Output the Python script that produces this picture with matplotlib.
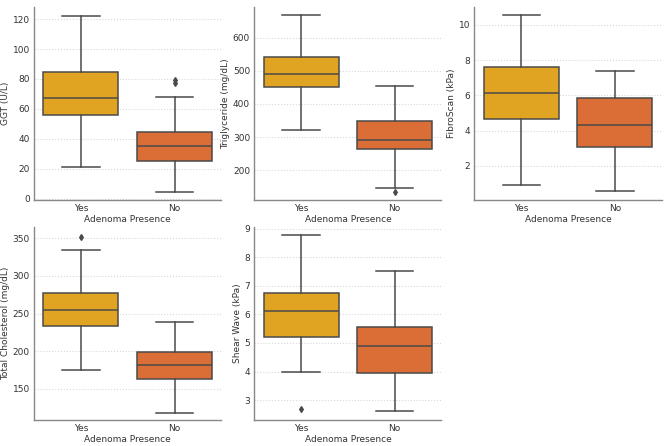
import matplotlib
matplotlib.use("Agg")
import matplotlib.pyplot as plt

groups = ["Yes", "No"]
colors = ["#E0A422", "#DB6D37"]

# (whislo, q1, med, q3, whishi, fliers) for Yes / No
ggt = [(21, 56, 67.5, 84.5, 122, []), (4.5, 25, 35, 44.5, 68, [77.5, 79.5])]
tg = [(320, 451, 489, 542, 667, []), (147, 265, 292, 350, 455, [136])]
fibro = [(0.9, 4.65, 6.1, 7.6, 10.55, []), (0.55, 3.05, 4.3, 5.85, 7.4, [])]
chol = [(175, 233, 255, 277, 335, [352]), (118, 163, 182, 199, 239, [])]
shear = [(4.0, 5.2, 6.12, 6.75, 8.77, [2.68]), (2.62, 3.95, 4.9, 5.57, 7.5, [])]

panels = [
    (ggt, "GGT (U/L)", (-1, 128), [0, 20, 40, 60, 80, 100, 120]),
    (tg, "Triglyceride (mg/dL)", (110, 692), [200, 300, 400, 500, 600]),
    (fibro, "FibroScan (kPa)", (0.05, 11.0), [2, 4, 6, 8, 10]),
    (chol, "Total Cholesterol (mg/dL)", (108, 365), [150, 200, 250, 300, 350]),
    (shear, "Shear Wave (kPa)", (2.3, 9.05), [3, 4, 5, 6, 7, 8, 9]),
]

fig, axes = plt.subplots(2, 3, figsize=(6.69, 4.46), dpi=100)
fig.subplots_adjust(left=0.051, right=0.989, top=0.984, bottom=0.058,
                    wspace=0.176, hspace=0.14)

line_c = "#4a4a4a"
for ax, (data, ylabel, ylim, ticks) in zip(axes.flat, panels):
    stats = []
    for g, (lo, q1, med, q3, hi, fl) in zip(groups, data):
        stats.append(dict(label=g, whislo=lo, q1=q1, med=med, q3=q3,
                          whishi=hi, fliers=fl))
    bp = ax.bxp(stats, positions=[0, 1], widths=0.8, patch_artist=True,
                boxprops=dict(edgecolor=line_c, linewidth=1.1),
                medianprops=dict(color=line_c, linewidth=1.1),
                whiskerprops=dict(color=line_c, linewidth=1.1),
                capprops=dict(color=line_c, linewidth=1.1),
                flierprops=dict(marker="d", markerfacecolor=line_c,
                                markeredgecolor=line_c, markersize=3))
    for patch, c in zip(bp["boxes"], colors):
        patch.set_facecolor(c)
    for cap in bp["caps"]:
        x = cap.get_xdata()
        mid = (x[0] + x[1]) / 2
        cap.set_xdata([mid - 0.2, mid + 0.2])
    ax.set_xlim(-0.5, 1.5)
    ax.set_ylim(*ylim)
    ax.set_yticks(ticks)
    ax.set_ylabel(ylabel, fontsize=6.5, color="#333333", labelpad=2)
    ax.set_xlabel("Adenoma Presence", fontsize=6.5, color="#333333", labelpad=1)
    ax.tick_params(labelsize=6.5, length=0, pad=3, colors="#333333")
    ax.yaxis.grid(True, color="#d8d8d8", linestyle=":", linewidth=0.8)
    ax.set_axisbelow(True)
    for s in ["top", "right"]:
        ax.spines[s].set_visible(False)
    for s in ["left", "bottom"]:
        ax.spines[s].set_color("#888888")
        ax.spines[s].set_linewidth(1.0)

axes[1, 2].remove()

fig.savefig("out.png", dpi=100)
